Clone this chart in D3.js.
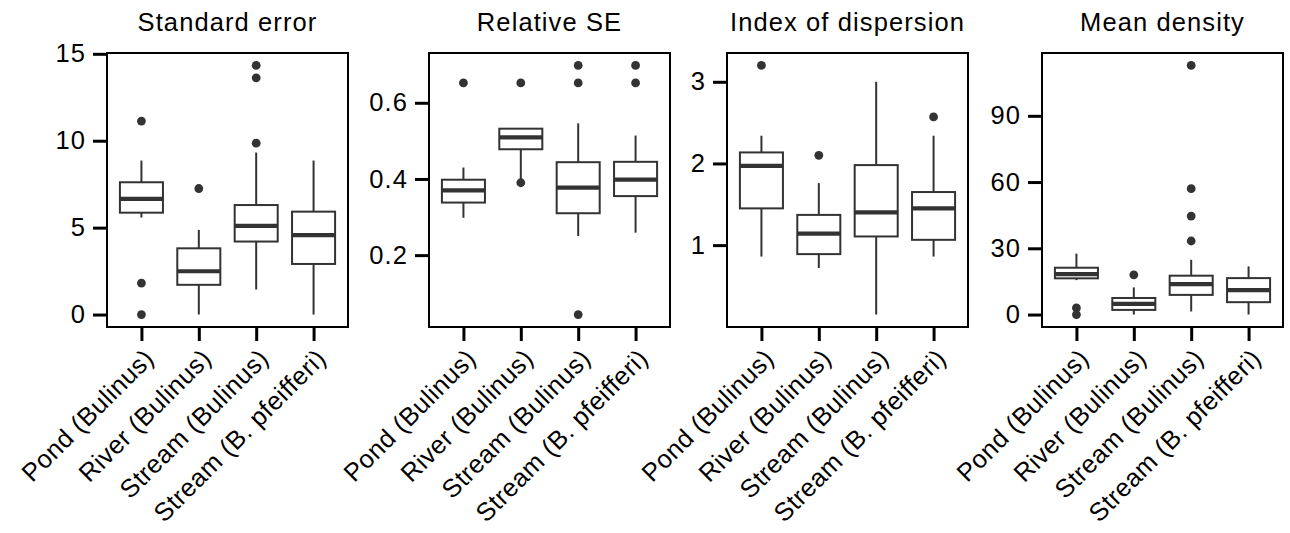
<!DOCTYPE html>
<html>
<head>
<meta charset="utf-8">
<script src="https://cdn.jsdelivr.net/npm/d3@7"></script>
<style>
  html, body { margin: 0; padding: 0; background: #fff; }
  svg text { font-family: "Liberation Sans", Arial, Helvetica, sans-serif; fill: #000; }
</style>
</head>
<body>
<div id="chart"></div>
<script>
const categories = ["Pond (Bulinus)", "River (Bulinus)", "Stream (Bulinus)", "Stream (B. pfeifferi)"];
const panelTitles = ["Standard error", "Relative SE", "Index of dispersion", "Mean density"];

// each box: [lower whisker, Q1, median, Q3, upper whisker]
const standardErrorBoxes = [
  [5.58, 5.86, 6.66, 7.61, 8.86],
  [0, 1.71, 2.49, 3.81, 4.87],
  [1.44, 4.2, 5.1, 6.3, 9.32],
  [0, 2.91, 4.57, 5.92, 8.86],
];
const standardErrorOutliers = [[11.13, 1.81, 0], [7.25], [14.33, 13.62, 9.86], []];
const standardErrorTicks = [0, 5, 10, 15];

const relativeSeBoxes = [
  [0.298, 0.338, 0.37, 0.398, 0.43],
  [0.4, 0.478, 0.509, 0.532, 0.532],
  [0.25, 0.31, 0.377, 0.444, 0.546],
  [0.259, 0.355, 0.398, 0.445, 0.514],
];
const relativeSeOutliers = [[0.652], [0.652, 0.39], [0.698, 0.652, 0.044], [0.698, 0.652]];
const relativeSeTicks = [0.2, 0.4, 0.6];

const dispersionBoxes = [
  [0.86, 1.45, 1.97, 2.135, 2.34],
  [0.72, 0.89, 1.14, 1.37, 1.76],
  [0.15, 1.106, 1.4, 1.98, 3.0],
  [0.86, 1.065, 1.45, 1.65, 2.34],
];
const dispersionOutliers = [[3.2], [2.1], [], [2.57]];
const dispersionTicks = [1, 2, 3];

const densityBoxes = [
  [15.6, 16.4, 18.3, 21.2, 27.6],
  [0, 2.1, 4.8, 7.5, 12.3],
  [1.4, 8.9, 13.8, 17.6, 24.8],
  [0, 5.6, 11.1, 16.5, 21.8],
];
const densityOutliers = [[3.0, 0], [18.0], [112.8, 57.0, 44.6, 33.3], []];
const densityTicks = [0, 30, 60, 90];

const width = 1290;
const height = 533;
const panelLefts = [107, 429, 727, 1042];
const panelWidth = 241;
const panelTop = 53;
const panelBottom = 327;
const fontSize = 25.5;
const letterSpacing = 1.1;
const lineColor = "#333333";

const panels = [
  { boxes: standardErrorBoxes, outliers: standardErrorOutliers, ticks: standardErrorTicks },
  { boxes: relativeSeBoxes, outliers: relativeSeOutliers, ticks: relativeSeTicks },
  { boxes: dispersionBoxes, outliers: dispersionOutliers, ticks: dispersionTicks },
  { boxes: densityBoxes, outliers: densityOutliers, ticks: densityTicks },
];

const svg = d3
  .select("#chart")
  .append("svg")
  .attr("width", width)
  .attr("height", height)
  .attr("viewBox", `0 0 ${width} ${height}`);

svg.append("rect").attr("width", width).attr("height", height).attr("fill", "#fff");

panels.forEach((panel, i) => {
  const left = panelLefts[i];
  const right = left + panelWidth;

  // ggplot-style 5% expansion of the data range
  const allValues = panel.boxes.flat().concat(panel.outliers.flat());
  const lo = d3.min(allValues);
  const hi = d3.max(allValues);
  const pad = (hi - lo) * 0.05;

  const y = d3.scaleLinear().domain([lo - pad, hi + pad]).range([panelBottom, panelTop]);
  const x = d3.scalePoint().domain(categories).range([left, right]).padding(0.6);
  const boxWidth = x.step() * 0.75;

  const g = svg.append("g");

  // title
  g.append("text")
    .attr("x", (left + right) / 2)
    .attr("y", 31)
    .attr("text-anchor", "middle")
    .attr("font-size", fontSize)
    .attr("letter-spacing", letterSpacing)
    .text(panelTitles[i]);

  const boxData = panel.boxes.map((b, j) => ({
    category: categories[j],
    lower: b[0],
    q1: b[1],
    median: b[2],
    q3: b[3],
    upper: b[4],
  }));

  const boxG = g
    .selectAll(".box")
    .data(boxData)
    .join("g")
    .attr("class", "box");

  boxG
    .append("line")
    .attr("x1", (d) => x(d.category))
    .attr("x2", (d) => x(d.category))
    .attr("y1", (d) => y(d.upper))
    .attr("y2", (d) => y(d.q3))
    .attr("stroke", lineColor)
    .attr("stroke-width", 2);

  boxG
    .append("line")
    .attr("x1", (d) => x(d.category))
    .attr("x2", (d) => x(d.category))
    .attr("y1", (d) => y(d.q1))
    .attr("y2", (d) => y(d.lower))
    .attr("stroke", lineColor)
    .attr("stroke-width", 2);

  boxG
    .append("rect")
    .attr("x", (d) => x(d.category) - boxWidth / 2)
    .attr("width", boxWidth)
    .attr("y", (d) => y(d.q3))
    .attr("height", (d) => y(d.q1) - y(d.q3))
    .attr("fill", "#fff")
    .attr("stroke", lineColor)
    .attr("stroke-width", 2);

  boxG
    .append("line")
    .attr("x1", (d) => x(d.category) - boxWidth / 2)
    .attr("x2", (d) => x(d.category) + boxWidth / 2)
    .attr("y1", (d) => y(d.median))
    .attr("y2", (d) => y(d.median))
    .attr("stroke", lineColor)
    .attr("stroke-width", 4.2);

  const outlierData = panel.outliers.flatMap((vals, j) =>
    vals.map((v) => ({ category: categories[j], value: v })),
  );

  g.selectAll(".outlier")
    .data(outlierData)
    .join("circle")
    .attr("class", "outlier")
    .attr("cx", (d) => x(d.category))
    .attr("cy", (d) => y(d.value))
    .attr("r", 4.4)
    .attr("fill", lineColor);

  // panel border
  g.append("rect")
    .attr("x", left)
    .attr("y", panelTop)
    .attr("width", panelWidth)
    .attr("height", panelBottom - panelTop)
    .attr("fill", "none")
    .attr("stroke", "#000")
    .attr("stroke-width", 2);

  // y axis
  const yAxis = g
    .append("g")
    .attr("transform", `translate(${left - 1},0)`)
    .call(
      d3
        .axisLeft(y)
        .tickValues(panel.ticks)
        .tickFormat(d3.format("~g"))
        .tickSize(13)
        .tickPadding(7)
        .tickSizeOuter(0),
    );
  yAxis.select(".domain").remove();
  yAxis.selectAll(".tick line").attr("stroke", "#000").attr("stroke-width", 3);
  yAxis
    .selectAll(".tick text")
    .attr("font-size", fontSize)
    .attr("letter-spacing", letterSpacing)
    .attr("fill", "#000");

  // x axis
  const xAxis = g
    .append("g")
    .attr("transform", `translate(0,${panelBottom + 1})`)
    .call(d3.axisBottom(x).tickSize(13).tickFormat("").tickSizeOuter(0));
  xAxis.select(".domain").remove();
  xAxis.selectAll(".tick line").attr("stroke", "#000").attr("stroke-width", 3);

  g.selectAll(".xlabel")
    .data(categories)
    .join("text")
    .attr("class", "xlabel")
    .attr("transform", (d) => `translate(${x(d) + 14},${panelBottom + 33}) rotate(-45)`)
    .attr("text-anchor", "end")
    .attr("font-size", fontSize)
    .attr("letter-spacing", 0.5)
    .text((d) => d);
});
</script>
</body>
</html>
